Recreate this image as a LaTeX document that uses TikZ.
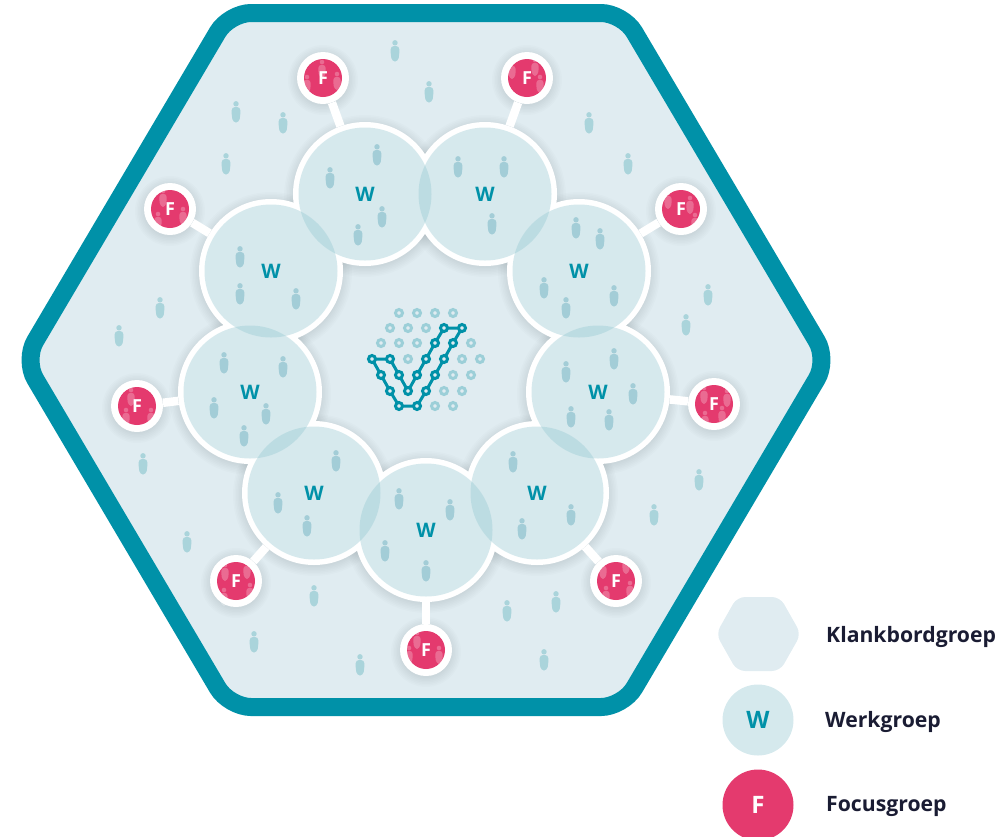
\documentclass[tikz,border=0pt]{standalone}
\usepackage{fontspec}
\setmainfont{Open Sans}
\definecolor{tealmain}{HTML}{0091A8}
\definecolor{hexfill}{HTML}{E0ECF1}
\definecolor{wtint}{HTML}{94C7D1}
\definecolor{wsolid}{HTML}{D5E9ED}
\definecolor{pinkmain}{HTML}{E43A6E}
\definecolor{persontint}{HTML}{AAD4DB}
\definecolor{personw}{HTML}{A3CDD7}
\definecolor{inktext}{HTML}{1A1C33}
\definecolor{dotlight}{HTML}{9CCFD8}
\tikzset{
  x=1pt,y=-1pt,
  wring/.style={circle,fill=white,inner sep=0,minimum size=144pt},
  fring/.style={circle,fill=white,inner sep=0,minimum size=52pt},
  wgroup/.style={circle,fill=wtint,fill opacity=.38,text opacity=1,text=tealmain,inner sep=0,minimum size=133pt,font=\bfseries\fontsize{20}{20}\selectfont},
  fgroup/.style={circle,fill=pinkmain,inner sep=0,minimum size=38pt},
  flabel/.style={text=white,inner sep=0,font=\bfseries\fontsize{18}{18}\selectfont},
  link/.style={white,line width=8.5pt},
  legendtext/.style={anchor=west,inner sep=0,text=inktext,font=\bfseries\fontsize{21.2}{21.2}\selectfont},
  chain/.style={draw=tealmain,line width=3pt},
  dotdark/.style={circle,draw=tealmain,fill=hexfill,line width=3pt,inner sep=0,minimum size=7pt},
  dotpale/.style={circle,draw=dotlight,fill=hexfill,line width=3pt,inner sep=0,minimum size=7pt},
  person/.pic={
    \fill[pic actions] (0,-8.2) circle (2.7);
    \fill[pic actions,rounded corners=3.4pt] (-4.4,-5) -- (4.4,-5) -- (4.4,3) -- (3,10.5) -- (-3,10.5) -- (-4.4,3) -- cycle;
  }
}
\newcommand{\softshadow}[3]{%
  \foreach \dr in {0,1.5,...,10}{\fill[black,opacity=.012] (#1,#2+2) circle ({#3+\dr});}}
\begin{document}
\begin{tikzpicture}
\useasboundingbox (0,0) rectangle (1006,836);
% main hexagon
\path[draw=tealmain,fill=hexfill,line width=18pt,rounded corners=22pt]
  (24,360) -- (229,13) -- (623,13) -- (828,360) -- (623,707) -- (229,707) -- cycle;
% people in the sounding-board group
\foreach \px/\py in {395/51,429/92,283/123,236/112,226/164,589/123,628/164,708/295,686/325,160/308,119/336,143/464,187/542,314/596,254/642,360/665,507/611,556/602,544/660,654/515,699/480}
  \pic[fill=persontint] at (\px,\py) {person};
% shadows
\foreach \cx/\cy in {365/194,485/194,579/271,598/392,537/493,426/530,314/493,250/392,271/271}{\softshadow{\cx}{\cy}{72}}
\foreach \cx/\cy in {323/78,527/78,681/209,714/404,616/581,426/650,236/581,137/406,170/209}{\softshadow{\cx}{\cy}{26}}
% rings
\node[wring] (r1) at (365,194) {};
\node[wring] (r2) at (485,194) {};
\node[wring] (r3) at (579,271) {};
\node[wring] (r4) at (598,392) {};
\node[wring] (r5) at (537,493) {};
\node[wring] (r6) at (426,530) {};
\node[wring] (r7) at (314,493) {};
\node[wring] (r8) at (250,392) {};
\node[wring] (r9) at (271,271) {};
\node[fring] (q1) at (323,78) {};
\node[fring] (q2) at (527,78) {};
\node[fring] (q3) at (681,209) {};
\node[fring] (q4) at (714,404) {};
\node[fring] (q5) at (616,581) {};
\node[fring] (q6) at (426,650) {};
\node[fring] (q7) at (236,581) {};
\node[fring] (q8) at (137,406) {};
\node[fring] (q9) at (170,209) {};
% connectors
\draw[link] (q1) -- (r1);
\draw[link] (q2) -- (r2);
\draw[link] (q3) -- (r3);
\draw[link] (q4) -- (r4);
\draw[link] (q5) -- (r5);
\draw[link] (q6) -- (r6);
\draw[link] (q7) -- (r7);
\draw[link] (q8) -- (r8);
\draw[link] (q9) -- (r9);
% working groups
\node[wgroup] (w1) at (r1) {W};
\node[wgroup] (w2) at (r2) {W};
\node[wgroup] (w3) at (r3) {W};
\node[wgroup] (w4) at (r4) {W};
\node[wgroup] (w5) at (r5) {W};
\node[wgroup] (w6) at (r6) {W};
\node[wgroup] (w7) at (r7) {W};
\node[wgroup] (w8) at (r8) {W};
\node[wgroup] (w9) at (r9) {W};
\foreach \px/\py in {377/155,330/178,382/217,358/235,458/167,504/167,492/224,576/228,600/239,544/288,566/308,614/296,614/359,566/372,633/394,571/417,609/420,513/462,571/515,522/529,399/499,450/510,385/551,426/571,336/461,278/503,307/526,224/363,283/367,214/408,266/414,244/436,240/257,240/294,296/299}
  \pic[fill=personw] at (\px,\py) {person};
% focus groups
\foreach \n in {1,2,3,4,5,6,7,8,9}{\node[fgroup] (f\n) at (q\n) {};}
\foreach \px/\py in {322/69,337/81,307/84,
  512/70,535/67,540/84,
  668/200,690/205,695/222,
  704/395,727/398,722/415,705/420,
  603/570,626/565,630/590,606/595,
  417/640,409/655,439/655,
  225/572,247/570,250/592,224/597,
  131/397,126/417,151/417,
  163/198,183/216,158/221}
  \pic[fill=white,fill opacity=.25,scale=.85] at (\px,\py) {person};
\foreach \n in {1,2,3,4,5,6,7,8,9}{\node[flabel] (fl\n) at (q\n) {F};}
% check mark dots
\foreach \px/\py in {399/313,417/313,435/313,453/313,390/328,408/328,426/328,381/343,399/343,417/343,471/343,408/359,462/359,480/359,453/375,471/375,444/391,462/391,435/406,453/406}
  \node[dotpale] at (\px,\py) {};
\foreach \n/\px/\py in {a/372/359,b/390/359,c/399/375,d/408/391,e/417/375,g/426/359,h/435/343,i/444/328,j/462/328,k/453/343,l/444/359,m/435/375,n/426/391,o/417/406,p/399/406,s/390/391,t/381/375}
  \coordinate (c\n) at (\px,\py);
\draw[chain] (ca) -- (cb) -- (cc) -- (cd) -- (ce) -- (cg) -- (ch) -- (ci) -- (cj) -- (ck) -- (cl) -- (cm) -- (cn) -- (co) -- (cp) -- (cs) -- (ct) -- cycle;
\foreach \n in {a,b,c,d,e,g,h,i,j,k,l,m,n,o,p,s,t}
  \node[dotdark] (dot\n) at (c\n) {};
% legend
\fill[hexfill,rounded corners=8pt] (716,634) -- (737,597) -- (780,597) -- (801,634) -- (780,671) -- (737,671) -- cycle;
\node[circle,fill=wsolid,inner sep=0,minimum size=71pt,text=tealmain,font=\bfseries\fontsize{24}{24}\selectfont] (lw) at (758,720) {W};
\node[circle,fill=pinkmain,inner sep=0,minimum size=71pt,text=white,font=\bfseries\fontsize{24}{24}\selectfont] (lf) at (758,805) {F};
\node[legendtext] (lt1) at (826,636.5) {Klankbordgroep};
\node[legendtext] (lt2) at (825,721.5) {Werkgroep};
\node[legendtext] (lt3) at (826,806.5) {Focusgroep};
\end{tikzpicture}
\end{document}
